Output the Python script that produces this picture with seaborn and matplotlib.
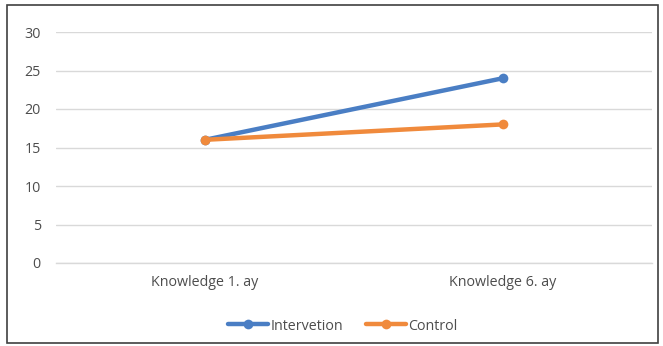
import matplotlib
matplotlib.use("Agg")
import matplotlib.pyplot as plt
import seaborn as sns
import pandas as pd
from matplotlib.patches import Rectangle

categories = ["Knowledge 1. ay", "Knowledge 6. ay"]
intervetion = [16, 24]
control = [16, 18]
series_names = ["Intervetion", "Control"]
colors = ["#4A7EC4", "#F08A3C"]

df = pd.DataFrame({
    "time": categories * 2,
    "score": intervetion + control,
    "group": [series_names[0]] * len(categories) + [series_names[1]] * len(categories),
})

sns.set_theme(style="white")
plt.rcParams["font.family"] = ["Open Sans", "DejaVu Sans"]
text_color = "#4D4D4D"
fs = 10.3

fig = plt.figure(figsize=(6.63, 3.46), dpi=100)
ax = fig.add_axes([56 / 663, 1 - 263 / 346, (652 - 56) / 663, (263 - 32) / 346])

sns.lineplot(data=df, x="time", y="score", hue="group", palette=colors,
             marker="o", markersize=7, markeredgewidth=0, linewidth=3.2,
             sort=False, ax=ax, legend=False)

ax.set_xlim(-0.5, 1.5)
ax.set_ylim(0, 30)
ax.set_yticks(range(0, 31, 5))
ax.yaxis.grid(True, color="#D9D9D9", linewidth=1)
ax.set_axisbelow(True)
for s in ["top", "right", "left"]:
    ax.spines[s].set_visible(False)
ax.spines["bottom"].set_color("#D9D9D9")
ax.spines["bottom"].set_linewidth(1)
ax.set_xlabel("")
ax.set_ylabel("")
ax.tick_params(axis="both", length=0, labelsize=fs, labelcolor=text_color)
ax.tick_params(axis="x", pad=9)
ax.tick_params(axis="y", pad=11)

handles = [plt.Line2D([0], [0], color=c, linewidth=3.2, marker="o", markersize=7,
                      markeredgewidth=0) for c in colors]
fig.legend(handles, series_names, loc="center", bbox_to_anchor=(343 / 663, 1 - 326 / 346),
           ncol=2, frameon=False, fontsize=fs, labelcolor=text_color,
           handlelength=2.8, handletextpad=0.15, columnspacing=1.6)

fig.patches.append(Rectangle((7 / 663, 1 - 343 / 346), (658 - 7) / 663, (343 - 5) / 346,
                             transform=fig.transFigure, fill=False,
                             edgecolor="#404040", linewidth=1.2))

fig.savefig("out.png", dpi=100, facecolor="white")
